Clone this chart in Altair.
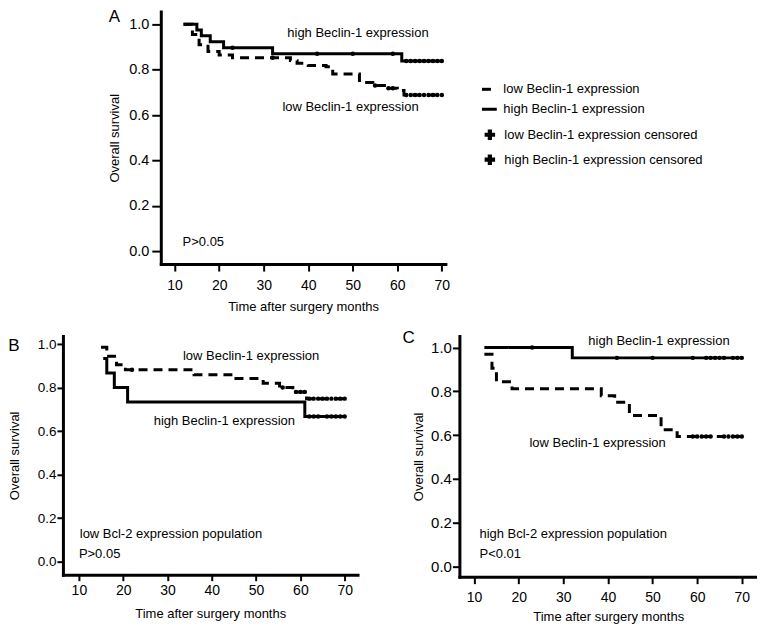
import altair as alt
import pandas as pd

FONT = "Liberation Sans, Arial, Helvetica, sans-serif"
LOW = "low Beclin-1 expression"
HIGH = "high Beclin-1 expression"
LOWC = "low Beclin-1 expression censored"
HIGHC = "high Beclin-1 expression censored"
XTICKS = [10, 20, 30, 40, 50, 60, 70]
YTICKS = [0.0, 0.2, 0.4, 0.6, 0.8, 1.0]

# ---- Panel A (all patients) ----
a_high_t = [12, 15, 16, 18, 21, 32, 61, 70]
a_high_s = [1.0, 0.975, 0.95, 0.923, 0.897, 0.87, 0.838, 0.838]
a_high_cens = [23, 42, 50, 59, 62, 63, 64, 65, 66, 67, 68, 69, 70]
a_low_t = [12, 14, 15.5, 17.5, 20, 23, 36, 37.5, 40, 44, 45.5, 51.5, 54.5, 57.5, 60, 61.5, 70]
a_low_s = [1.0, 0.955, 0.91, 0.88, 0.865, 0.853, 0.84, 0.828, 0.818, 0.813, 0.781, 0.744,
           0.73, 0.718, 0.708, 0.688, 0.688]
a_low_cens = [32, 55, 58, 59, 62, 63, 64, 65, 66, 67, 68, 69, 70]

# ---- Panel B (low Bcl-2) ----
b_high_t = [15.5, 16.3, 18, 21, 61, 70]
b_high_s = [0.933, 0.867, 0.80, 0.733, 0.667, 0.667]
b_high_cens = [62, 63, 64, 66, 67, 68, 69, 70]
b_low_t = [15, 16.3, 18.5, 20.5, 36, 44.8, 51.6, 55.3, 58.3, 61.4, 70]
b_low_s = [0.985, 0.944, 0.905, 0.882, 0.859, 0.841, 0.82, 0.80, 0.78, 0.749, 0.749]
b_low_cens = [22, 56, 59, 60, 61, 62, 63, 64, 65, 66, 67, 68, 69, 70]

# ---- Panel C (high Bcl-2) ----
c_high_t = [12.3, 32, 70]
c_high_s = [1.0, 0.953, 0.953]
c_high_cens = [23, 42, 50, 59, 62, 63, 64, 65, 66, 68, 69, 70]
c_low_t = [12.3, 14, 15, 18.5, 38.5, 41.5, 44.8, 51.9, 55.5, 70]
c_low_s = [0.969, 0.906, 0.844, 0.8125, 0.78, 0.75, 0.69, 0.625, 0.594, 0.594]
c_low_cens = [59, 60, 61, 62, 63, 66, 67, 68, 69, 70]

a_texts = [(35.3, 0.96, HIGH), (34.2, 0.634, LOW), (11.8, 0.04, "P>0.05")]
b_texts = [(33.5, 0.947, LOW), (26.9, 0.644, HIGH),
           (10.2, 0.125, "low Bcl-2 expression population"), (10.0, 0.033, "P>0.05")]
c_texts = [(35.6, 1.031, HIGH), (22.4, 0.562, LOW),
           (11.2, 0.147, "high Bcl-2 expression population"), (11.2, 0.056, "P<0.01")]


def step_value(ts, ss, t):
    v = ss[0]
    for ti, si in zip(ts, ss):
        if ti <= t:
            v = si
    return v


def panel(letter, title_offset, title_dx, title_dy, high_t, high_s, high_c, low_t, low_s, low_c,
          texts, xdom, ydom, w, h, ax, with_legend):
    lines = pd.DataFrame(
        [{"t": t, "s": s, "grp": LOW} for t, s in zip(low_t, low_s)]
        + [{"t": t, "s": s, "grp": HIGH} for t, s in zip(high_t, high_s)]
    )
    cens = pd.DataFrame(
        [{"t": t, "s": step_value(low_t, low_s, t), "cg": LOWC} for t in low_c]
        + [{"t": t, "s": step_value(high_t, high_s, t), "cg": HIGHC} for t in high_c]
    )
    labels = pd.DataFrame([{"t": t, "s": s, "label": l} for t, s, l in texts])

    xenc = alt.X("t:Q", scale=alt.Scale(domain=xdom, nice=False, zero=False),
                 axis=alt.Axis(values=XTICKS, title="Time after surgery months", format="d",
                               labelFontSize=ax["xlfs"], labelPadding=ax["xlp"],
                               titlePadding=ax["xtp"], tickSize=ax["xts"]))
    yenc = alt.Y("s:Q", scale=alt.Scale(domain=ydom, nice=False, zero=False),
                 axis=alt.Axis(values=YTICKS, title="Overall survival", format=".1f",
                               labelFontSize=ax["ylfs"], labelPadding=ax["ylp"],
                               titlePadding=ax["ytp"], tickSize=ax["yts"]))

    if with_legend:
        dash_leg = alt.Legend(orient="none", legendX=ax["lx"], legendY=ax["ly1"], title=None,
                              symbolType="stroke", symbolStrokeWidth=3, symbolSize=220,
                              symbolStrokeColor="black", labelFontSize=13, labelFont=FONT,
                              labelColor="black", labelOffset=5, rowPadding=4, padding=0,
                              labelLimit=400)
        col_leg = alt.Legend(orient="none", legendX=ax["lx"] + 3, legendY=ax["ly2"], title=None,
                             symbolType="cross", symbolSize=110, symbolStrokeWidth=0,
                             labelFontSize=13, labelFont=FONT, labelColor="black",
                             labelOffset=8, rowPadding=11, padding=0, labelLimit=400)
    else:
        dash_leg = None
        col_leg = None

    line_layer = alt.Chart(lines).mark_line(interpolate="step-after", color="black",
                                            strokeWidth=3).encode(
        x=xenc, y=yenc,
        strokeDash=alt.StrokeDash("grp:N", scale=alt.Scale(domain=[LOW, HIGH],
                                                           range=[[9, 6], [1, 0]]),
                                  legend=dash_leg),
        detail="grp:N",
    )
    pt_layer = alt.Chart(cens).mark_point(filled=True, size=20, opacity=1).encode(
        x="t:Q", y="s:Q",
        color=alt.Color("cg:N", scale=alt.Scale(domain=[LOWC, HIGHC], range=["black", "black"]),
                        legend=col_leg),
    )
    txt_layer = alt.Chart(labels).mark_text(align="left", baseline="middle", fontSize=13,
                                            font=FONT, color="black").encode(
        x="t:Q", y="s:Q", text="label:N")

    title = alt.TitleParams(text=letter, anchor="start", frame="bounds", fontSize=17,
                            fontWeight="normal", font=FONT, color="black",
                            offset=title_offset, dx=title_dx, dy=title_dy)
    return alt.layer(line_layer, pt_layer, txt_layer).properties(
        width=w, height=h, title=title)


axA = dict(xlfs=14, xlp=7, xtp=8, xts=7, ylfs=14.5, ylp=3, ytp=7, yts=9,
           lx=320, ly1=69, ly2=117)
axB = dict(xlfs=14, xlp=3, xtp=10, xts=6, ylfs=13.5, ylp=1, ytp=16, yts=6)
axC = dict(xlfs=14, xlp=7, xtp=6, xts=7, ylfs=15, ylp=1, ytp=5, yts=7)

A = panel("A", -15, 0, 0, a_high_t, a_high_s, a_high_cens, a_low_t, a_low_s, a_low_cens,
          a_texts, [6.9, 70.8], [-0.057, 1.057], 285, 253, axA, True)
B = panel("B", -13, 0, 6, b_high_t, b_high_s, b_high_cens, b_low_t, b_low_s, b_low_cens,
          b_texts, [6.4, 72.9], [-0.06, 1.037], 295, 239, axB, False)
C = panel("C", -12, -10, 0, c_high_t, c_high_s, c_high_cens, c_low_t, c_low_s, c_low_cens,
          c_texts, [6.7, 73.4], [-0.046, 1.053], 298, 241, axC, False)

spacer = alt.Chart(pd.DataFrame({"v": [0]})).mark_point(opacity=0).encode(
    x=alt.value(10), y=alt.value(5)).properties(width=35, height=10)

top = alt.hconcat(spacer, A, spacing=10).resolve_scale(strokeDash="independent",
                                                       color="independent")
bottom = alt.hconcat(B, C, spacing=45).resolve_scale(strokeDash="independent",
                                                     color="independent")
chart = alt.vconcat(top, bottom, spacing=15).resolve_scale(
    strokeDash="independent", color="independent"
).configure(
    font=FONT, padding=0, background="white"
).configure_view(stroke=None).configure_axis(
    grid=False, domainColor="black", domainWidth=3, domainCap="square",
    tickColor="black", tickWidth=2, labelColor="black", titleColor="black",
    labelFont=FONT, titleFont=FONT, titleFontSize=13, titleFontWeight="normal"
)

chart.save("out.html", embed_options={"renderer": "svg", "actions": False})
